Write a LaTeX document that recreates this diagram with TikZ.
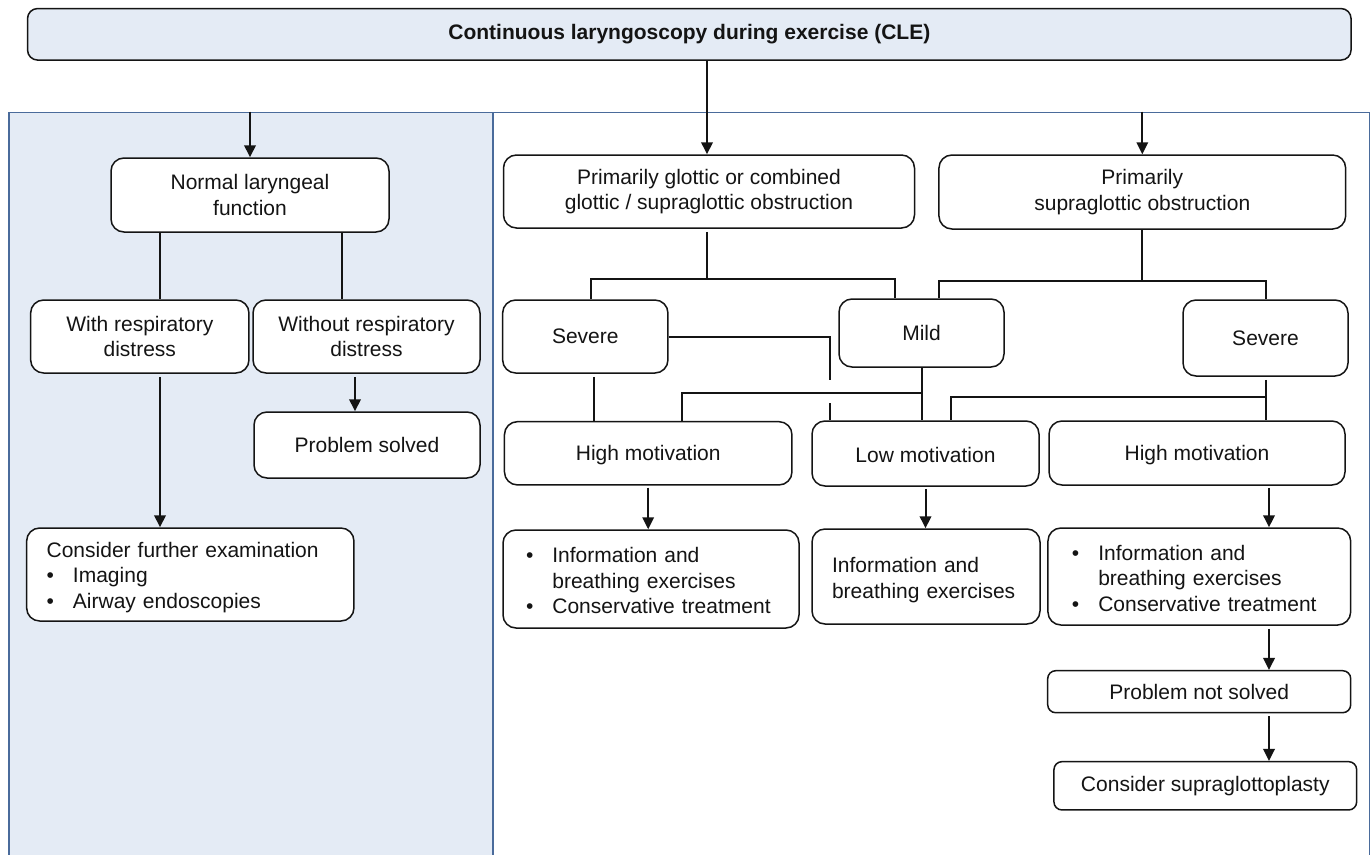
\documentclass[tikz,border=0pt]{standalone}
\usepackage{fontspec}
\setmainfont{Liberation Sans}
\usetikzlibrary{arrows.meta,calc}
\definecolor{panelfill}{RGB}{228,235,245}
\definecolor{panelline}{RGB}{74,107,155}
\definecolor{ink}{RGB}{20,20,20}
\newcommand{\lowerby}[2]{\raisebox{-#1}[\height][\depth]{#2}}
\begin{document}
\begin{tikzpicture}[x=1pt,y=-1pt,
  every node/.style={font=\fontsize{21}{25.5}\selectfont, text=ink},
  box/.style={draw=ink, line width=1.5pt, rounded corners=13pt, fill=white, inner sep=0pt, align=center},
  smallbox/.style={box, rounded corners=8pt},
  listbox/.style={box, align=left, inner ysep=0pt},
  panel/.style={draw=panelline, line width=1.8pt, inner sep=0pt, anchor=north west},
  conn/.style={draw=ink, line width=2pt},
  arr/.style={conn, -{Triangle[length=12pt,width=11.5pt]}}
]
\useasboundingbox (0,0) rectangle (1370,854);
\clip (0,0) rectangle (1370,854);

% panels
\node[panel, fill=panelfill, minimum width=483.7pt, minimum height=770pt] (lpanel) at (8.3,111.5) {};
\node[panel, fill=white, minimum width=876.5pt, minimum height=770pt] (rpanel) at (492,111.5) {};

% title
\node[box, fill=panelfill, rounded corners=10pt, minimum width=1323.5pt, minimum height=51.5pt,
  font=\bfseries\fontsize{21}{25}\selectfont] (top) at (689.3,34.3) {Continuous laryngoscopy during exercise (CLE)};

% left panel
\node[box, minimum width=278pt, minimum height=74pt] (normal) at (250,195) {Normal laryngeal\\function};
\node[box, minimum width=218.3pt, minimum height=73pt] (withr) at (139.8,336.5) {With respiratory\\distress};
\node[box, minimum width=227pt, minimum height=73pt] (without) at (366.5,336.5) {Without respiratory\\distress};
\node[box, minimum width=226pt, minimum height=66pt] (solved) at (367,445) {Problem solved};
\node[listbox, inner xsep=20pt, text width=287.3pt, minimum width=327.3pt, minimum height=93pt] (further) at (190.3,574.5)
  {\lowerby{3pt}{\begin{tabular}{@{}l@{\hspace{19pt}}l@{}}\multicolumn{2}{@{}l@{}}{Consider further examination}\\ \textbullet & Imaging\\ \textbullet & Airway endoscopies\end{tabular}}};

% right panel
\node[box, minimum width=411pt, minimum height=73pt] (glottic) at (709,191.5) {Primarily glottic or combined\\glottic / supraglottic obstruction};
\node[box, minimum width=406.7pt, minimum height=74pt] (supra) at (1142.3,192) {Primarily\\supraglottic obstruction};
\node[box, minimum width=165.3pt, minimum height=73pt] (sevL) at (585.3,336.5) {Severe};
\node[box, minimum width=165pt, minimum height=68pt] (mild) at (921.5,333) {Mild};
\node[box, minimum width=165pt, minimum height=76pt] (sevR) at (1265.5,338) {Severe};
\node[box, minimum width=287.5pt, minimum height=63.3pt] (highL) at (648.2,453.3) {\lowerby{2pt}{High motivation}};
\node[box, minimum width=227pt, minimum height=65pt] (low) at (925.5,453.5) {\lowerby{1pt}{Low motivation}};
\node[box, minimum width=296pt, minimum height=64pt] (highR) at (1197,453) {\lowerby{2pt}{High motivation}};
\node[listbox, inner xsep=23pt, text width=250pt, minimum width=296pt, minimum height=98pt] (infoL) at (651,579)
  {\lowerby{4pt}{\begin{tabular}{@{}l@{\hspace{19pt}}l@{}}\textbullet & Information and\\ & breathing exercises\\ \textbullet & Conservative treatment\end{tabular}}};
\node[listbox, inner xsep=20pt, text width=188pt, minimum width=228pt, minimum height=95pt] (infoM) at (926,576.5)
  {\lowerby{4pt}{\begin{tabular}{@{}l@{}}Information and\\breathing exercises\end{tabular}}};
\node[listbox, inner xsep=24pt, text width=254.7pt, minimum width=302.7pt, minimum height=97pt] (infoR) at (1199.3,576.5)
  {\lowerby{4pt}{\begin{tabular}{@{}l@{\hspace{19pt}}l@{}}\textbullet & Information and\\ & breathing exercises\\ \textbullet & Conservative treatment\end{tabular}}};
\node[smallbox, minimum width=303pt, minimum height=42pt] (notsolved) at (1199.2,691.7) {Problem not solved};
\node[smallbox, minimum width=302.7pt, minimum height=48.3pt] (plasty) at (1205.3,785.8) {Consider supraglottoplasty};

% column / junction coordinates
\coordinate (xg) at (707,0);
\coordinate (xwl) at (160,0);
\coordinate (xwo) at (341.7,0);
\coordinate (xso) at (355,0);
\coordinate (xg1) at (591,0);
\coordinate (xg2) at (895,0);
\coordinate (xs1) at (939,0);
\coordinate (xsl) at (594,0);
\coordinate (xhl) at (682,0);
\coordinate (xlw) at (951,0);
\coordinate (xr) at (1269,0);
\coordinate (jg) at (0,279.3);
\coordinate (js) at (0,281);
\coordinate (jm) at (0,393);
\coordinate (jr) at (0,397);
\coordinate (cr) at (830,393);

% connectors: title to panels
\draw[conn] (top.south -| xg) -- (xg |- rpanel.north);
\draw[arr] (xg |- rpanel.north) -- (xg |- glottic.north);
\draw[arr] (lpanel.north -| normal.north) -- (normal.north);
\draw[arr] (rpanel.north -| supra.north) -- (supra.north);

% left panel connectors
\draw[conn] (normal.south -| xwl) -- (xwl |- withr.north);
\draw[conn] (normal.south -| xwo) -- (xwo |- without.north);
\draw[arr, shorten <=3pt] (withr.south -| xwl) -- (xwl |- further.north);
\draw[arr, shorten <=3pt] (without.south -| xso) -- (xso |- solved.north);

% glottic / supraglottic branches
\draw[conn, shorten <=3pt] (glottic.south -| xg) -- (xg |- jg);
\draw[conn] (xg1 |- sevL.north) -- (xg1 |- jg) -- (xg2 |- jg) -- (xg2 |- mild.north);
\draw[conn] (supra.south) -- (supra.south |- js);
\draw[conn] (xs1 |- mild.north) -- (xs1 |- js) -- (sevR.north |- js) -- (sevR.north);

% severity to motivation
\draw[conn, shorten <=3pt] (xsl |- sevL.south) -- (xsl |- highL.north);
\draw[conn] (sevL.east) -| ($(cr)+(0,-13)$);
\draw[conn] ($(cr)+(0,10)$) -- (low.north -| cr);
\draw[conn] (mild.south) -- (mild.south |- low.north);
\draw[conn] (mild.south |- jm) -| (xhl |- highL.north);
\draw[conn, shorten <=3pt] (sevR.south) -- (sevR.south |- highR.north);
\draw[conn] (sevR.south |- jr) -| (xlw |- low.north);

% motivation to treatment
\draw[arr, shorten <=2pt] (highL.south) -- (highL.south |- infoL.north);
\draw[arr, shorten <=2pt] (low.south) -- (low.south |- infoM.north);
\draw[arr, shorten <=2pt] (xr |- highR.south) -- (xr |- infoR.north);
\draw[arr, shorten <=3pt] (xr |- infoR.south) -- (xr |- notsolved.north);
\draw[arr, shorten <=3pt] (xr |- notsolved.south) -- (xr |- plasty.north);
\end{tikzpicture}
\end{document}
